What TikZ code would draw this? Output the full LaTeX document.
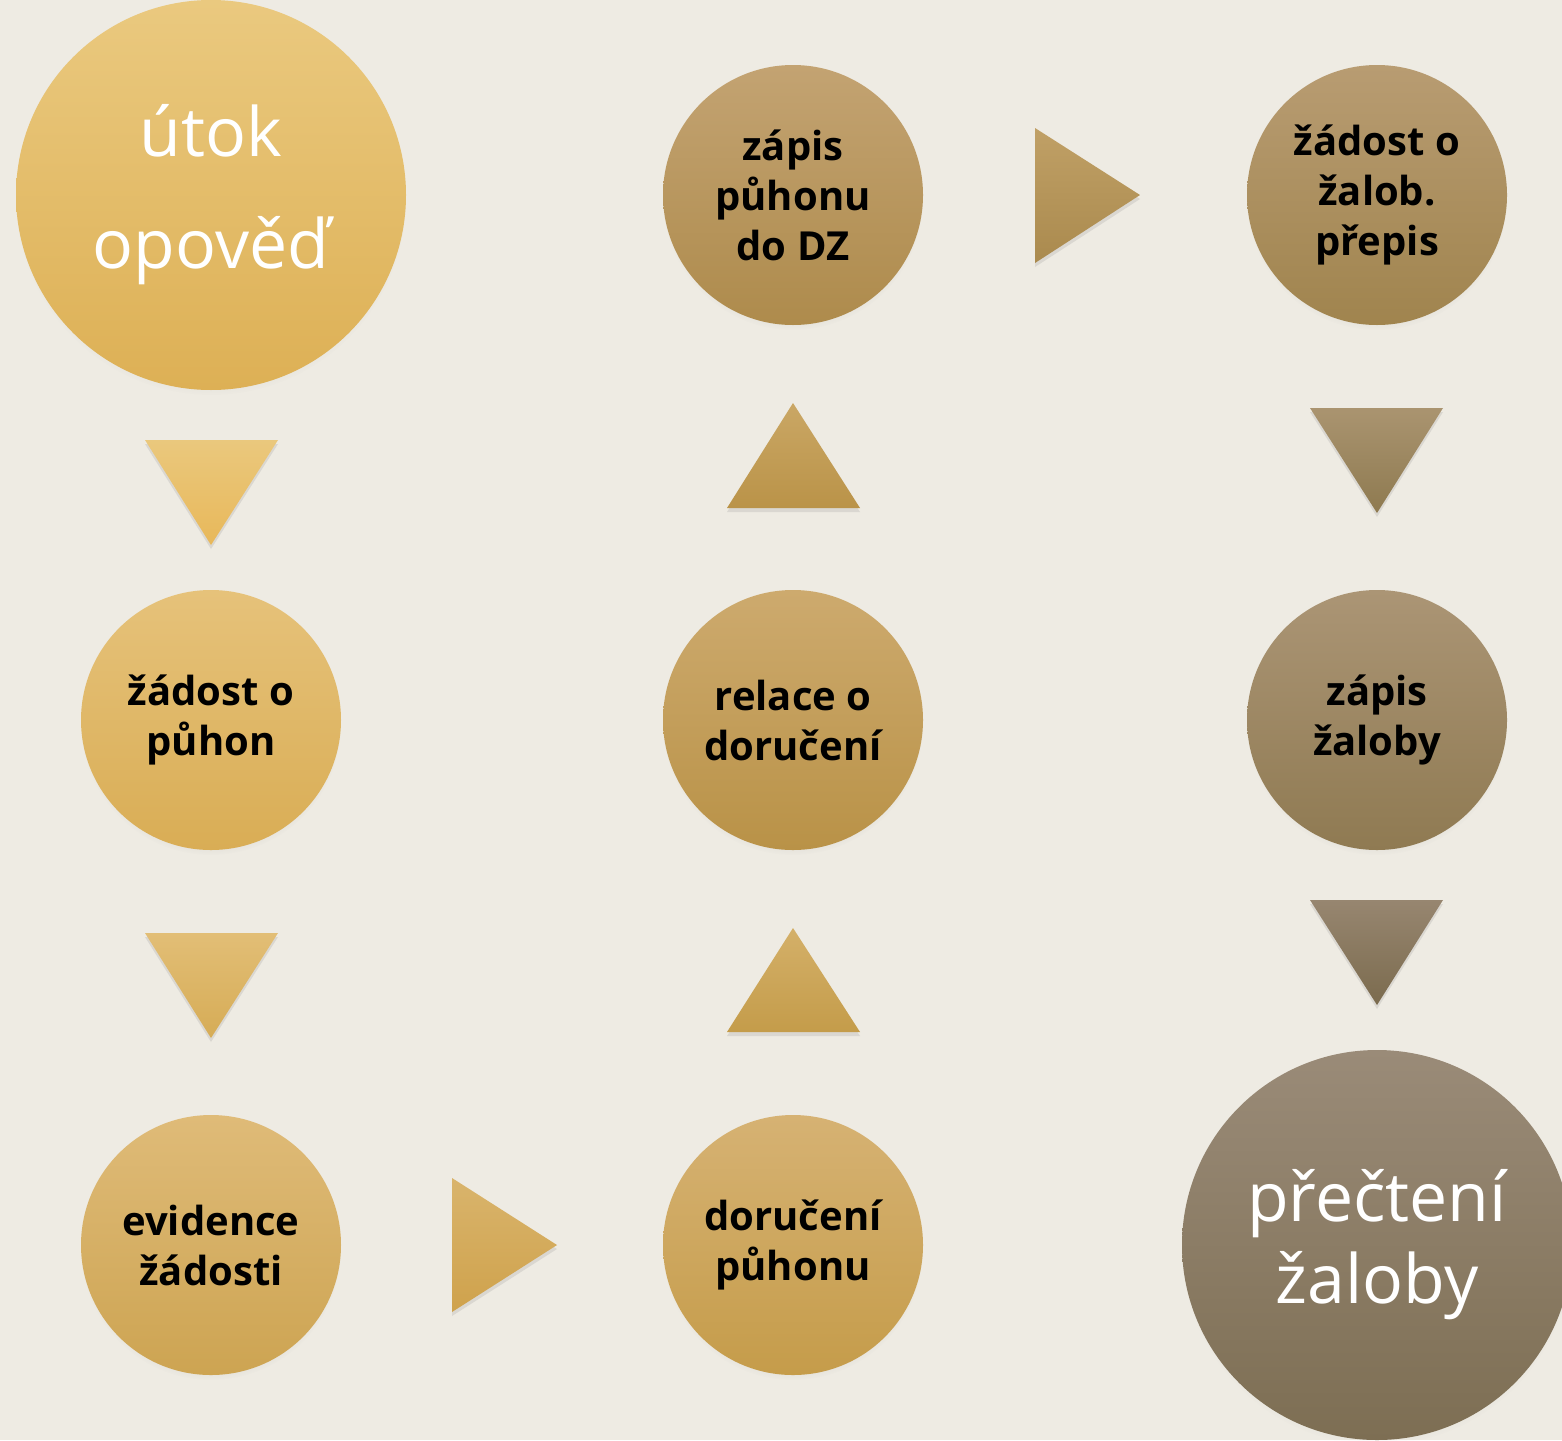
\documentclass[tikz,border=0pt]{standalone}
\usepackage{fontspec}
\setmainfont{Open Sans}
\usetikzlibrary{shadows}
\definecolor{paper}{HTML}{EEEBE3}
\begin{document}
\begin{tikzpicture}[x=0.5pt,y=-0.5pt,
  ball/.style={circle, minimum size=130pt, inner sep=0pt, align=center,
    font=\fontsize{20}{25}\selectfont\bfseries, text=black,
    circular drop shadow={shadow xshift=0pt, shadow yshift=-2.5pt, opacity=0.18, shadow scale=1.0}},
  bigball/.style={ball, minimum size=195pt, text=white,
    font=\fontsize{34}{41}\selectfont},
  tri/.style={drop shadow={shadow xshift=0pt, shadow yshift=-2pt, opacity=0.18}}]
\useasboundingbox (0,0) rectangle (1562,1440);
\fill[paper] (0,0) rectangle (1562,1440);
% first column
\node [bigball, top color={rgb,255:red,234;green,201;blue,127}, bottom color={rgb,255:red,221;green,176;blue,85},
  font=\fontsize{34}{56}\selectfont] (utok) at (211,195) {útok\\opověď};
\node [ball, top color={rgb,255:red,230;green,194;blue,122}, bottom color={rgb,255:red,217;green,173;blue,85}] (pzad) at (211,720) {žádost o\\půhon};
\node [ball, top color={rgb,255:red,223;green,187;blue,120}, bottom color={rgb,255:red,205;green,164;blue,82}] (evid) at (211,1245) {evidence\\žádosti};
% second column
\node [ball, top color={rgb,255:red,214;green,178;blue,115}, bottom color={rgb,255:red,197;green,156;blue,74}] (doru) at (793,1245) {doručení\\půhonu};
\node [ball, top color={rgb,255:red,205;green,170;blue,110}, bottom color={rgb,255:red,185;green,146;blue,71}] (rela) at (793,720) {relace o\\doručení};
\node [ball, top color={rgb,255:red,195;green,163;blue,114}, bottom color={rgb,255:red,174;green,139;blue,76}] (zpis) at (793,195) {zápis\\půhonu\\do DZ};
% third column
\node [ball, top color={rgb,255:red,184;green,156;blue,114}, bottom color={rgb,255:red,160;green,132;blue,78}] (zzad) at (1377,195) {žádost o\\žalob.\\přepis};
\node [ball, top color={rgb,255:red,171;green,149;blue,117}, bottom color={rgb,255:red,143;green,122;blue,82}] (zzal) at (1377,720) {zápis\\žaloby};
\node [bigball, top color={rgb,255:red,154;green,139;blue,120}, bottom color={rgb,255:red,125;green,110;blue,83}] (prec) at (1377,1245) {přečtení\\žaloby};
% triangles
\path[tri, top color={rgb,255:red,234;green,200;blue,125}, bottom color={rgb,255:red,232;green,184;blue,90}] (145,440) -- (278,440) -- (211,545) -- cycle;
\path[tri, top color={rgb,255:red,226;green,190;blue,118}, bottom color={rgb,255:red,214;green,172;blue,86}] (145,933) -- (278,933) -- (211,1038) -- cycle;
\path[tri, top color={rgb,255:red,217;green,180;blue,108}, bottom color={rgb,255:red,207;green,162;blue,76}] (452,1178) -- (557,1245) -- (452,1312) -- cycle;
\path[tri, top color={rgb,255:red,212;green,176;blue,105}, bottom color={rgb,255:red,196;green,156;blue,74}] (793,928) -- (860,1032) -- (727,1032) -- cycle;
\path[tri, top color={rgb,255:red,202;green,167;blue,101}, bottom color={rgb,255:red,186;green,147;blue,72}] (793,403) -- (860,508) -- (727,508) -- cycle;
\path[tri, top color={rgb,255:red,192;green,160;blue,102}, bottom color={rgb,255:red,170;green,138;blue,78}] (1035,128) -- (1140,195) -- (1035,263) -- cycle;
\path[tri, top color={rgb,255:red,170;green,148;blue,112}, bottom color={rgb,255:red,142;green,122;blue,80}] (1310,408) -- (1443,408) -- (1377,513) -- cycle;
\path[tri, top color={rgb,255:red,151;green,134;blue,112}, bottom color={rgb,255:red,123;green,107;blue,78}] (1310,900) -- (1443,900) -- (1377,1005) -- cycle;
\end{tikzpicture}
\end{document}
